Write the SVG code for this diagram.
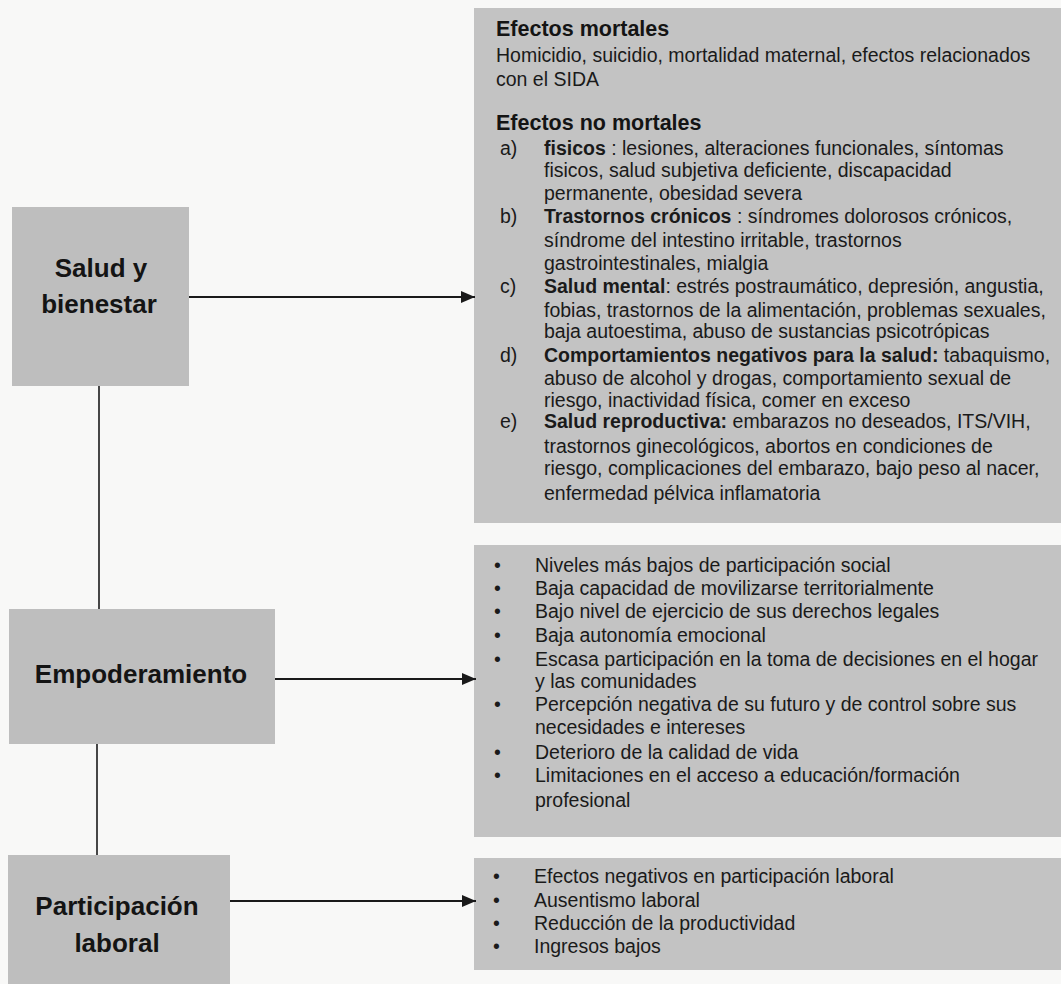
<svg xmlns="http://www.w3.org/2000/svg" width="1061" height="984" viewBox="0 0 1061 984">
  <style>
    .bg { fill: #f8f8f7; }
    .lbox { fill: #bebebe; }
    .rbox { fill: #c3c3c3; }
    .lbl { font-family: "Liberation Sans", Arial, sans-serif; font-weight: bold; font-size: 26px; fill: #141414; text-anchor: middle; }
    .t { font-family: "Liberation Sans", Arial, sans-serif; font-size: 19.5px; fill: #1a1a1a; }
    .h { font-family: "Liberation Sans", Arial, sans-serif; font-size: 21.5px; font-weight: bold; fill: #141414; }
    .b { font-weight: bold; }
    .conn { stroke: #1a1a1a; stroke-width: 2; fill: none; }
    .vline { stroke: #1a1a1a; stroke-width: 1.6; fill: none; }
  </style>
  <defs>
    <marker id="arrow" viewBox="0 0 14 12" refX="14" refY="6" markerWidth="14" markerHeight="12" markerUnits="userSpaceOnUse" orient="auto">
      <path d="M0,0 L14,6 L0,12 Z" fill="#1a1a1a"/>
    </marker>
  </defs>
  <rect class="bg" x="0" y="0" width="1061" height="984"/>

  <g id="node-salud">
    <rect class="lbox" x="12" y="207" width="177" height="179"/>
    <text class="lbl" x="101" y="277">Salud y</text>
    <text class="lbl" x="99" y="313">bienestar</text>
  </g>

  <g id="node-empoderamiento">
    <rect class="lbox" x="9" y="609" width="266" height="135"/>
    <text class="lbl" x="141" y="683">Empoderamiento</text>
  </g>

  <g id="node-participacion">
    <rect class="lbox" x="8" y="855" width="222" height="129"/>
    <text class="lbl" x="117" y="915">Participación</text>
    <text class="lbl" x="117" y="952">laboral</text>
  </g>

  <g id="node-efectos-salud">
    <rect class="rbox" x="474" y="8" width="587" height="515"/>
    <text class="h" x="496" y="36">Efectos mortales</text>
    <text class="t" x="496" y="62">Homicidio, suicidio, mortalidad maternal, efectos relacionados</text>
    <text class="t" x="496" y="86">con el SIDA</text>
    <text class="h" x="496" y="130">Efectos no mortales</text>
    <text class="t" x="500" y="155">a)</text>
    <text class="t" x="544" y="155"><tspan class="b">fisicos</tspan> : lesiones, alteraciones funcionales, síntomas</text>
    <text class="t" x="544" y="177">fisicos, salud subjetiva deficiente, discapacidad</text>
    <text class="t" x="544" y="200">permanente, obesidad severa</text>
    <text class="t" x="500" y="223">b)</text>
    <text class="t" x="544" y="223"><tspan class="b">Trastornos crónicos</tspan> : síndromes dolorosos crónicos,</text>
    <text class="t" x="544" y="247">síndrome del intestino irritable, trastornos</text>
    <text class="t" x="544" y="270">gastrointestinales, mialgia</text>
    <text class="t" x="500" y="293">c)</text>
    <text class="t" x="544" y="293"><tspan class="b">Salud mental</tspan>: estrés postraumático, depresión, angustia,</text>
    <text class="t" x="544" y="317">fobias, trastornos de la alimentación, problemas sexuales,</text>
    <text class="t" x="544" y="338">baja autoestima, abuso de sustancias psicotrópicas</text>
    <text class="t" x="500" y="362">d)</text>
    <text class="t" x="544" y="362"><tspan class="b">Comportamientos negativos para la salud:</tspan> tabaquismo,</text>
    <text class="t" x="544" y="385">abuso de alcohol y drogas, comportamiento sexual de</text>
    <text class="t" x="544" y="407">riesgo, inactividad física, comer en exceso</text>
    <text class="t" x="500" y="428">e)</text>
    <text class="t" x="544" y="428"><tspan class="b">Salud reproductiva:</tspan> embarazos no deseados, ITS/VIH,</text>
    <text class="t" x="544" y="453">trastornos ginecológicos, abortos en condiciones de</text>
    <text class="t" x="544" y="475">riesgo, complicaciones del embarazo, bajo peso al nacer,</text>
    <text class="t" x="544" y="500">enfermedad pélvica inflamatoria</text>
  </g>

  <g id="node-efectos-empoderamiento">
    <rect class="rbox" x="474" y="545" width="587" height="292"/>
    <text class="t" x="494" y="572">•</text>
    <text class="t" x="535" y="572">Niveles más bajos de participación social</text>
    <text class="t" x="494" y="595">•</text>
    <text class="t" x="535" y="595">Baja capacidad de movilizarse territorialmente</text>
    <text class="t" x="494" y="618">•</text>
    <text class="t" x="535" y="618">Bajo nivel de ejercicio de sus derechos legales</text>
    <text class="t" x="494" y="642">•</text>
    <text class="t" x="535" y="642">Baja autonomía emocional</text>
    <text class="t" x="494" y="666">•</text>
    <text class="t" x="535" y="666">Escasa participación en la toma de decisiones en el hogar</text>
    <text class="t" x="535" y="688">y las comunidades</text>
    <text class="t" x="494" y="711">•</text>
    <text class="t" x="535" y="711">Percepción negativa de su futuro y de control sobre sus</text>
    <text class="t" x="535" y="734">necesidades e intereses</text>
    <text class="t" x="494" y="759">•</text>
    <text class="t" x="535" y="759">Deterioro de la calidad de vida</text>
    <text class="t" x="494" y="782">•</text>
    <text class="t" x="535" y="782">Limitaciones en el acceso a educación/formación</text>
    <text class="t" x="535" y="807">profesional</text>
  </g>

  <g id="node-efectos-laboral">
    <rect class="rbox" x="474" y="858" width="587" height="112"/>
    <text class="t" x="493" y="883">•</text>
    <text class="t" x="534" y="883">Efectos negativos en participación laboral</text>
    <text class="t" x="493" y="907">•</text>
    <text class="t" x="534" y="907">Ausentismo laboral</text>
    <text class="t" x="493" y="930">•</text>
    <text class="t" x="534" y="930">Reducción de la productividad</text>
    <text class="t" x="493" y="953">•</text>
    <text class="t" x="534" y="953">Ingresos bajos</text>
  </g>

  <g id="connectors">
    <line class="conn" x1="189" y1="297" x2="475" y2="297" marker-end="url(#arrow)"/>
    <line class="conn" x1="275" y1="679" x2="476" y2="679" marker-end="url(#arrow)"/>
    <line class="conn" x1="230" y1="901" x2="476" y2="901" marker-end="url(#arrow)"/>
    <line class="vline" x1="99" y1="386" x2="99" y2="609"/>
    <line class="vline" x1="97" y1="744" x2="97" y2="855"/>
  </g>
</svg>
